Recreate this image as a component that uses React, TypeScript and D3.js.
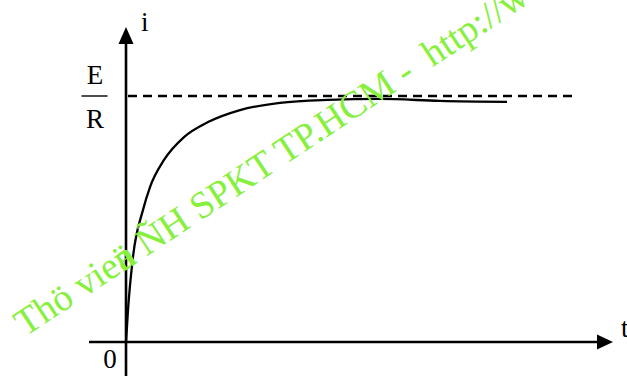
import React from "react";
import * as d3 from "d3";

// Current through an RL branch after switching on: rises toward E/R
const timeValues = [0, 0.05, 0.175, 0.425, 0.6, 0.95, 1.45, 2.05, 2.85, 3.85, 5.05, 6.35, 7.85, 9.525];
const currentValues = [0, 0.13, 0.346, 0.537, 0.63, 0.74, 0.833, 0.894, 0.943, 0.972, 0.984, 0.988, 0.98, 0.976];
const steadyLevel = 1; // E/R
const axisLabels = { y: "i", x: "t", origin: "0" };
const levelLabel = { num: "E", den: "R" };
const watermark = ["Thö vie", "ä", "n ÑH SPKT TP.HCM -  http://www.thuvienspkt.edu.vn"];

const W = 627;
const H = 376;
const serif = { fontFamily: '"Liberation Serif", "Times New Roman", serif', whiteSpace: "pre" as const };

export default function App() {
  const x = d3.scaleLinear().domain([0, 10]).range([126, 526]);
  const y = d3.scaleLinear().domain([0, 1]).range([342, 96]);

  const points = timeValues.map((t, k) => [t, currentValues[k]] as [number, number]);
  const line = d3
    .line<[number, number]>()
    .x((d) => x(d[0]))
    .y((d) => y(d[1]))
    .curve(d3.curveMonotoneX);

  const x0 = x(0);
  const y0 = y(0);
  const yLevel = y(steadyLevel);

  return (
    <svg
      width={W}
      height={H}
      style={{ position: "absolute", left: 0, top: 0, background: "#fff" }}
    >
      {/* steady-state asymptote */}
      <line
        x1={x0 + 2}
        x2={578}
        y1={yLevel}
        y2={yLevel}
        stroke="#000"
        strokeWidth={2.4}
        strokeDasharray="9 6"
      />

      {/* axes */}
      <line x1={x0} x2={x0} y1={42} y2={H} stroke="#000" strokeWidth={2.6} />
      <path d={`M${x0},27 L${x0 - 7.5},44 L${x0 + 7.5},44 Z`} fill="#000" />
      <line x1={89} x2={600} y1={y0} y2={y0} stroke="#000" strokeWidth={2.6} />
      <path d={`M613,${y0} L597,${y0 - 7.5} L597,${y0 + 7.5} Z`} fill="#000" />

      {/* i(t) */}
      <path d={line(points) ?? ""} fill="none" stroke="#000" strokeWidth={2.3} />

      {/* labels */}
      <text x={141} y={31} fontSize={27} style={serif}>{axisLabels.y}</text>
      <text x={621} y={337} fontSize={27} style={serif}>{axisLabels.x}</text>
      <text x={110} y={368} fontSize={27} textAnchor="middle" style={serif}>{axisLabels.origin}</text>
      <text x={95} y={84} fontSize={27} textAnchor="middle" style={serif}>{levelLabel.num}</text>
      <line x1={81.5} x2={107.5} y1={yLevel} y2={yLevel} stroke="#000" strokeWidth={1.4} />
      <text x={95} y={128} fontSize={27} textAnchor="middle" style={serif}>{levelLabel.den}</text>

      {/* library watermark */}
      <text
        transform="translate(25,337) rotate(-33.5)"
        fontSize={38}
        fill="#86f03c"
        style={serif}
      >
        {watermark[0]}
        <tspan>{watermark[1]}</tspan>
        <tspan dx="-0.444em">{watermark[2]}</tspan>
      </text>
    </svg>
  );
}
